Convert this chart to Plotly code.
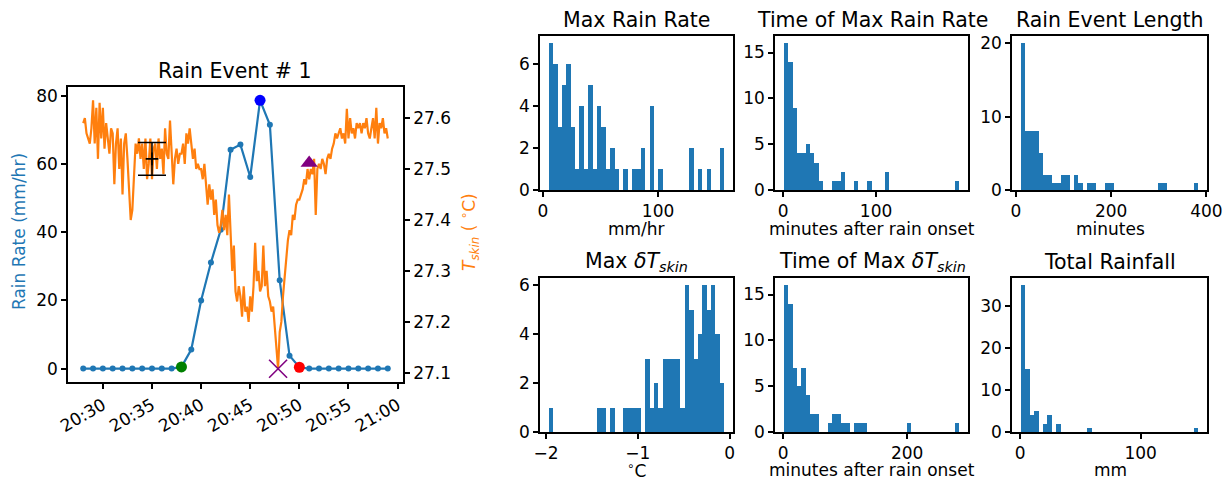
import numpy as np
import pandas as pd
import plotly.graph_objects as go

FONT = "DejaVu Sans"
BLUE = "#1f77b4"
ORANGE = "#ff7f0e"
W, H = 1230, 482

# ---------------- Left panel data ----------------
rain_start = "2020-01-01 20:28:00"
rain_rate = [0, 0, 0, 0, 0, 0, 0, 0, 0, 0,
             0.5, 5.6, 20.0, 31.1, 40.7, 64.2, 65.7, 56.2, 78.7, 71.5, 25.9, 3.8, 0.4,
             0, 0, 0, 0, 0, 0, 0, 0, 0]
onset_idx = 10
end_idx = 22

tskin_start = "2020-01-01 20:28:00"
tskin = [
    27.59, 27.60, 27.57, 27.56, 27.55, 27.58,   # 20:28
    27.635, 27.55, 27.62, 27.52, 27.63, 27.56,  # 20:29
    27.62, 27.54, 27.59, 27.56, 27.53, 27.58,   # 20:30
    27.57, 27.47, 27.55, 27.58, 27.50, 27.56,   # 20:31
    27.45, 27.55, 27.57, 27.52, 27.47, 27.40,   # 20:32
    27.42, 27.50, 27.55, 27.53, 27.56, 27.52,   # 20:33
    27.55, 27.50, 27.56, 27.48, 27.51, 27.56,   # 20:34
    27.48, 27.54, 27.55, 27.50, 27.56, 27.52,   # 20:35
    27.54, 27.49, 27.58, 27.53, 27.52, 27.595,  # 20:36
    27.53, 27.47, 27.52, 27.54, 27.51, 27.53,   # 20:37
    27.53, 27.55, 27.51, 27.57, 27.55, 27.58,   # 20:38
    27.55, 27.52, 27.54, 27.50, 27.51, 27.50,   # 20:39
    27.50, 27.48, 27.51, 27.46, 27.43, 27.47,   # 20:40
    27.44, 27.46, 27.41, 27.44, 27.39, 27.375,  # 20:41
    27.39, 27.42, 27.38, 27.41, 27.37, 27.45,   # 20:42
    27.36, 27.30, 27.35, 27.26, 27.24, 27.27,   # 20:43
    27.25, 27.21, 27.27, 27.22, 27.23, 27.20,   # 20:44
    27.25, 27.22, 27.27, 27.355, 27.28, 27.30,  # 20:45
    27.26, 27.27, 27.35, 27.27, 27.30, 27.25,   # 20:46
    27.24, 27.22, 27.23, 27.19, 27.15, 27.108,  # 20:47
    27.18, 27.20, 27.25, 27.29, 27.33, 27.36,   # 20:48
    27.38, 27.37, 27.41, 27.40, 27.43, 27.44,   # 20:49
    27.44, 27.45, 27.46, 27.48, 27.47, 27.50,   # 20:50
    27.48, 27.50, 27.49, 27.52, 27.41, 27.50,   # 20:51
    27.51, 27.50, 27.52, 27.51, 27.49, 27.52,   # 20:52
    27.53, 27.52, 27.54, 27.55, 27.57, 27.56,   # 20:53
    27.57, 27.58, 27.56, 27.57, 27.55, 27.618,  # 20:54
    27.56, 27.60, 27.57, 27.58, 27.56, 27.59,   # 20:55
    27.58, 27.59, 27.57, 27.59, 27.58, 27.60,   # 20:56
    27.57, 27.56, 27.58, 27.60, 27.56, 27.62,   # 20:57
    27.55, 27.59, 27.58, 27.60, 27.57, 27.58,   # 20:58
    27.56,                                      # 20:59
]
recovery_time = "2020-01-01 20:51:00"
recovery_T = 27.512
errbar_time = "2020-01-01 20:35:00"
errbar_T = 27.520
errbar_sd = 0.032

# ---------------- Histogram data (40 bins each) ----------------
hist_titles = ["Max Rain Rate", "Time of Max Rain Rate", "Rain Event Length",
               "Max <i>δT</i><sub><i>skin</i></sub>",
               "Time of Max <i>δT</i><sub><i>skin</i></sub>", "Total Rainfall"]
hist_xlabels = ["mm/hr", "minutes after rain onset", "minutes",
                "<sup>∘</sup>C", "minutes after rain onset", "mm"]
mrr_counts = [7, 6, 3, 5, 6, 3, 1, 4, 1, 5, 1, 4, 3, 1, 2, 1, 0, 1, 0, 1,
              1, 2, 0, 4, 0, 1, 0, 0, 0, 0, 0, 0, 2, 0, 1, 0, 1, 0, 0, 2]
tmrr_counts = [16, 14, 9, 4, 4, 5, 4, 3, 1, 0, 0, 1, 1, 2, 0, 0, 1, 0, 0, 1,
               0, 0, 0, 2, 0, 0, 0, 0, 0, 0, 0, 0, 0, 0, 0, 0, 0, 0, 0, 1]
el_counts = [20, 8, 8, 8, 5, 2, 2, 1, 1, 2, 2, 0, 2, 1, 0, 1, 1, 0, 0, 1,
             1, 0, 0, 0, 0, 0, 0, 0, 0, 0, 0, 1, 1, 0, 0, 0, 0, 0, 0, 1]
mdt_counts = [1, 0, 0, 0, 0, 0, 0, 0, 0, 0, 0, 1, 1, 0, 1, 0, 0, 1, 1, 1,
              1, 0, 3, 1, 2, 1, 3, 3, 3, 3, 1, 6, 5, 3, 4, 6, 5, 6, 4, 2]
tmdt_counts = [16, 14, 7, 5, 7, 4, 2, 2, 0, 0, 1, 2, 2, 1, 1, 0, 1, 1, 1, 0,
               0, 0, 0, 0, 0, 0, 0, 0, 1, 0, 0, 0, 0, 0, 0, 0, 0, 0, 0, 1]
tr_counts = [35, 15, 4, 5, 0, 2, 4, 0, 2, 0, 0, 0, 0, 0, 0, 1, 0, 0, 0, 0,
             0, 0, 0, 0, 0, 0, 0, 0, 0, 0, 0, 0, 0, 0, 0, 0, 0, 0, 0, 1]
hist_ranges = [(5.0, 157.5), (0.7, 189.5), (10.4, 382.6),
               (-1.97, -0.06), (1.0, 284.0), (0.5, 147.8)]
hist_xdtick = [100, 100, 200, 1, 200, 100]
hist_ydtick = [2, 5, 10, 2, 5, 10]
hist_counts = [mrr_counts, tmrr_counts, el_counts, mdt_counts, tmdt_counts, tr_counts]

# ---------------- helpers ----------------
def xd(a, b):
    return [a / W, b / W]

def yd(top, bottom):
    return [1 - bottom / H, 1 - top / H]

def ann(text, px, py, size, color="black", angle=0):
    return dict(text=text, x=px / W, y=1 - py / H, xref="paper", yref="paper",
                xanchor="center", yanchor="middle", showarrow=False, textangle=angle,
                font=dict(family=FONT, size=size, color=color))

TICK = 17
axis_common = dict(showline=True, linecolor="#000000", linewidth=1.5, mirror=True,
                   ticks="outside", ticklen=5, tickwidth=1.5, tickcolor="#000000",
                   showgrid=False, zeroline=False, automargin=False,
                   tickfont=dict(family=FONT, size=TICK, color="black"))

fig = go.Figure()

rain_times = pd.date_range(rain_start, periods=len(rain_rate), freq="1min")
tskin_times = pd.date_range(tskin_start, periods=len(tskin), freq="10s")

# T_skin line (right axis)
fig.add_trace(go.Scatter(x=tskin_times, y=tskin, mode="lines",
                         line=dict(color=ORANGE, width=2.2), xaxis="x", yaxis="y2"))
# Rain rate (left axis)
fig.add_trace(go.Scatter(x=rain_times, y=rain_rate, mode="lines+markers",
                         line=dict(color=BLUE, width=2.2),
                         marker=dict(color=BLUE, size=6), xaxis="x", yaxis="y"))
imax = int(np.argmax(rain_rate))
for idx, col in [(onset_idx, "green"), (imax, "blue"), (end_idx, "red")]:
    fig.add_trace(go.Scatter(x=[rain_times[idx]], y=[rain_rate[idx]], mode="markers",
                             marker=dict(color=col, size=11), xaxis="x", yaxis="y"))
# min T marker
imin = int(np.argmin(tskin))
fig.add_trace(go.Scatter(x=[tskin_times[imin]], y=[tskin[imin]], mode="markers",
                         marker=dict(symbol="x-thin", size=18,
                                     line=dict(color="purple", width=1.6)),
                         xaxis="x", yaxis="y2"))
fig.add_trace(go.Scatter(x=[recovery_time], y=[recovery_T], mode="markers",
                         marker=dict(symbol="triangle-up", size=15, color="purple"),
                         xaxis="x", yaxis="y2"))
fig.add_trace(go.Scatter(x=[errbar_time], y=[errbar_T], mode="markers",
                         marker=dict(symbol="cross-thin", size=9,
                                     line=dict(color="black", width=1.6)),
                         error_y=dict(type="constant", value=errbar_sd, color="black",
                                      thickness=1.5, width=14),
                         xaxis="x", yaxis="y2"))

layout = dict(
    template="none",
    width=W, height=H, margin=dict(l=0, r=0, t=0, b=0, pad=0),
    paper_bgcolor="white", plot_bgcolor="white", showlegend=False,
    font=dict(family=FONT, color="black"),
    xaxis=dict(axis_common, domain=xd(68, 403), type="date",
               range=["2020-01-01 20:26:27", "2020-01-01 21:00:33"],
               tick0="2020-01-01 20:30:00", dtick=5 * 60 * 1000, tickformat="%H:%M",
               tickangle=-30, anchor="y"),
    yaxis=dict(axis_common, domain=yd(87, 382), range=[-3.93, 82.6],
               tickvals=[0, 20, 40, 60, 80], anchor="x"),
    yaxis2=dict(axis_common, overlaying="y", side="right", range=[27.082, 27.661],
                tickvals=[27.1, 27.2, 27.3, 27.4, 27.5, 27.6], anchor="x", mirror=False),
)

annotations = [
    ann("Rain Event # 1", 235, 71, 20.5),
    ann("Rain Rate (mm/hr)", 19, 232, 17, BLUE, -90),
    ann("<i>T</i><sub><i>skin</i></sub> ( <sup>∘</sup>C)", 469, 232, 17, ORANGE, -90),
]

cols = [(540, 733, 636), (775, 968, 872), (1012, 1207, 1110)]
rows = [(36, 190, 20, 229), (278, 432, 262, 470)]
for k in range(6):
    r, c = divmod(k, 3)
    n = k + 3
    x0, x1, xc = cols[c]
    top, bot, ty, ly = rows[r]
    lo, hi = hist_ranges[k]
    counts = hist_counts[k]
    nb = len(counts)
    bw = (hi - lo) / nb
    centers = [lo + bw * (i + 0.5) for i in range(nb)]
    fig.add_trace(go.Bar(x=centers, y=counts, width=bw,
                         marker=dict(color=BLUE, line=dict(width=0)),
                         xaxis=f"x{n}", yaxis=f"y{n}"))
    span = hi - lo
    layout[f"xaxis{n}"] = dict(axis_common, domain=xd(x0, x1),
                               range=[lo - 0.05 * span, hi + 0.05 * span],
                               tick0=0, dtick=hist_xdtick[k], anchor=f"y{n}")
    layout[f"yaxis{n}"] = dict(axis_common, domain=yd(top, bot),
                               range=[0, max(counts) * 1.05],
                               tick0=0, dtick=hist_ydtick[k], anchor=f"x{n}")
    annotations.append(ann(hist_titles[k], xc, ty, 20.5))
    annotations.append(ann(hist_xlabels[k], xc, ly, 17))

layout["annotations"] = annotations
layout["bargap"] = 0
fig.update_layout(**layout)
fig.write_html("out.html", config={"displayModeBar": False},
               post_script="document.body.style.margin='0';document.body.style.overflow='hidden';")
